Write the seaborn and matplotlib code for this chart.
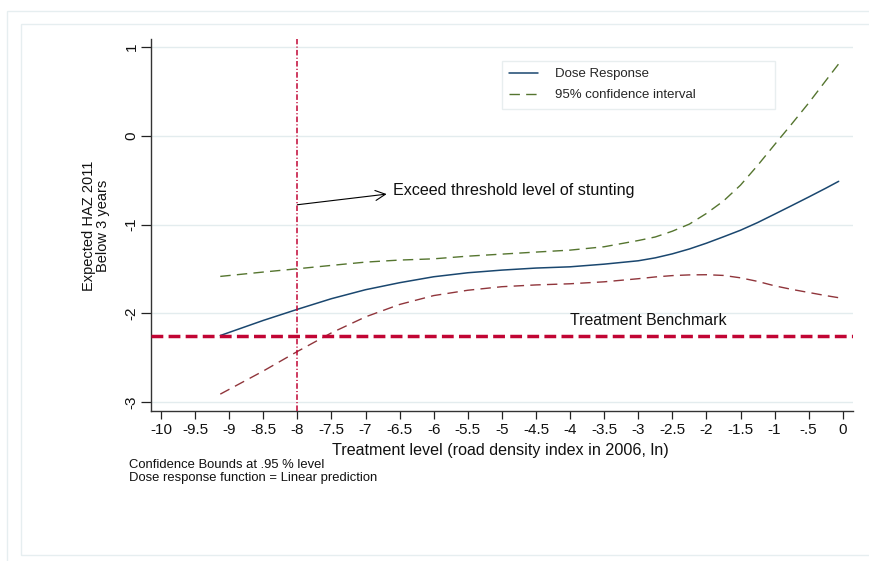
import matplotlib
matplotlib.use("Agg")
import matplotlib.pyplot as plt
from matplotlib.patches import Rectangle
from matplotlib.lines import Line2D
import seaborn as sns
import pandas as pd

# ---- data ----
treatment = [-9.13, -8.5, -8, -7.5, -7, -6.5, -6, -5.5, -5, -4.5, -4, -3.5, -3,
             -2.75, -2.5, -2.25, -2, -1.75, -1.5, -1.25, -1, -0.75, -0.5, -0.25, -0.06]
dose_response = [-2.25, -2.08, -1.955, -1.835, -1.734, -1.655, -1.588, -1.543, -1.513,
                 -1.49, -1.476, -1.446, -1.408, -1.375, -1.33, -1.275, -1.21, -1.138,
                 -1.064, -0.978, -0.883, -0.787, -0.69, -0.591, -0.513]
ci_upper = [-1.584, -1.535, -1.498, -1.46, -1.423, -1.40, -1.386, -1.356, -1.333,
            -1.31, -1.288, -1.25, -1.18, -1.14, -1.075, -0.995, -0.875, -0.735,
            -0.556, -0.335, -0.10, 0.132, 0.369, 0.62, 0.81]
ci_lower = [-2.91, -2.65, -2.43, -2.22, -2.04, -1.90, -1.80, -1.74, -1.70, -1.68,
            -1.667, -1.645, -1.61, -1.59, -1.575, -1.567, -1.565, -1.573, -1.60,
            -1.64, -1.69, -1.73, -1.765, -1.80, -1.824]
benchmark = -2.25
threshold = -8.0
x_ticks = [-10, -9.5, -9, -8.5, -8, -7.5, -7, -6.5, -6, -5.5, -5, -4.5, -4, -3.5,
           -3, -2.5, -2, -1.5, -1, -0.5, 0]
x_tick_labels = ["-10", "-9.5", "-9", "-8.5", "-8", "-7.5", "-7", "-6.5", "-6", "-5.5",
                 "-5", "-4.5", "-4", "-3.5", "-3", "-2.5", "-2", "-1.5", "-1", "-.5", "0"]
y_ticks = [1, 0, -1, -2, -3]
y_tick_labels = ["1", "0", "-1", "-2", "-3"]
notes = ["Confidence Bounds at .95 % level", "Dose response function = Linear prediction"]

df = pd.DataFrame({"treatment": treatment, "dose": dose_response,
                   "upper": ci_upper, "lower": ci_lower})

sns.set_theme(style="white")
plt.rcParams["font.family"] = ["Liberation Sans", "DejaVu Sans"]
plt.rcParams["lines.scale_dashes"] = False

navy = "#1a476f"
green = "#55752f"
maroon = "#90353b"
cranberry = "#c10534"
grid_c = "#e3ecee"
frame_c = "#e6eef0"
txt = "#111111"

fig = plt.figure(figsize=(8.69, 5.61), dpi=100)
fig.patch.set_facecolor("white")
ax = fig.add_axes([151/869, 1-411/561, (853-151)/869, (411-39)/561])
ax.set_facecolor("white")

# outer Stata-like frames
fig.patches.append(Rectangle((7/869, -0.05), 1.1, 1-11/561+0.05, transform=fig.transFigure,
                             fill=False, edgecolor=frame_c, linewidth=1.0, zorder=0))
fig.patches.append(Rectangle((21/869, 1-555/561), 1.1, (555-24)/561, transform=fig.transFigure,
                             fill=False, edgecolor=frame_c, linewidth=1.0, zorder=0))

ax.set_xlim(-10.146, 0.15)
ax.set_ylim(-3.10, 1.09)

for yv in y_ticks:
    ax.axhline(yv, color=grid_c, linewidth=1.0, zorder=0)

sns.lineplot(data=df, x="treatment", y="upper", ax=ax, color=green, linewidth=1.0,
             linestyle=(0, (7.5, 4.5)), zorder=3)
sns.lineplot(data=df, x="treatment", y="lower", ax=ax, color=maroon, linewidth=1.0,
             linestyle=(0, (7.5, 4.5)), zorder=3)
sns.lineplot(data=df, x="treatment", y="dose", ax=ax, color=navy, linewidth=1.1, zorder=4)

ax.axhline(benchmark, color=cranberry, linewidth=2.5, linestyle=(0, (8.5, 3.8)), zorder=5)
ax.axvline(threshold, color=cranberry, linewidth=1.1, linestyle=(0, (4, 1.6, 0.8, 1.6)), zorder=5)

ax.annotate("", xy=(-6.69, -0.657), xytext=(threshold, -0.777),
            arrowprops=dict(arrowstyle="->,head_length=0.6,head_width=0.3", color="black",
                            linewidth=0.8, shrinkA=0, shrinkB=0))
ax.text(-6.60, -0.62, "Exceed threshold level of stunting", fontsize=11.6,
        ha="left", va="center", color=txt)
ax.text(-2.85, -2.085, "Treatment Benchmark", fontsize=11.4, ha="center", va="center",
        color=txt)

ax.set_xticks(x_ticks)
ax.set_xticklabels(x_tick_labels, fontsize=11)
ax.set_yticks(y_ticks)
ax.set_yticklabels(y_tick_labels, fontsize=11, rotation=90, va="center")
ax.tick_params(axis="x", direction="out", length=6, width=0.9, color="#222222", pad=3,
               bottom=True, labelcolor=txt)
ax.tick_params(axis="y", direction="out", length=7, width=0.9, color="#222222", pad=2,
               left=True, labelcolor=txt)

for side in ["top", "right"]:
    ax.spines[side].set_visible(False)
for side in ["left", "bottom"]:
    ax.spines[side].set_color("#333333")
    ax.spines[side].set_linewidth(1.0)

ax.set_xlabel("")
ax.set_ylabel("")
fig.text(500/869, 1-450/561, "Treatment level (road density index in 2006, ln)",
         fontsize=11.6, ha="center", va="center", color=txt)
fig.text(96/869, 1-226/561, "Expected HAZ 2011\nBelow 3 years", fontsize=10.5,
         rotation=90, ha="center", va="center", multialignment="center",
         linespacing=1.0, color=txt)
fig.text(128.7/869, 1-465.5/561, notes[0], fontsize=9.4, ha="left", va="center", color=txt)
fig.text(128.7/869, 1-478.5/561, notes[1], fontsize=9.4, ha="left", va="center", color=txt)

handles = [Line2D([0], [0], color=navy, linewidth=1.1),
           Line2D([0], [0], color=green, linewidth=1.0, linestyle=(0, (7.5, 4.5)))]
leg = ax.legend(handles, ["Dose Response", "95% confidence interval"],
                loc="upper left", bbox_to_anchor=(0.4996, 0.812, 0.8889-0.4996, 0.129),
                mode="expand", borderaxespad=0, fontsize=9.5, frameon=True, fancybox=False,
                handlelength=2.2, handletextpad=1.3, labelspacing=0.65, borderpad=0.55)
leg.get_frame().set_edgecolor("#e3eaec")
leg.get_frame().set_linewidth(1.0)

fig.savefig("out.png", dpi=100, facecolor="white")
